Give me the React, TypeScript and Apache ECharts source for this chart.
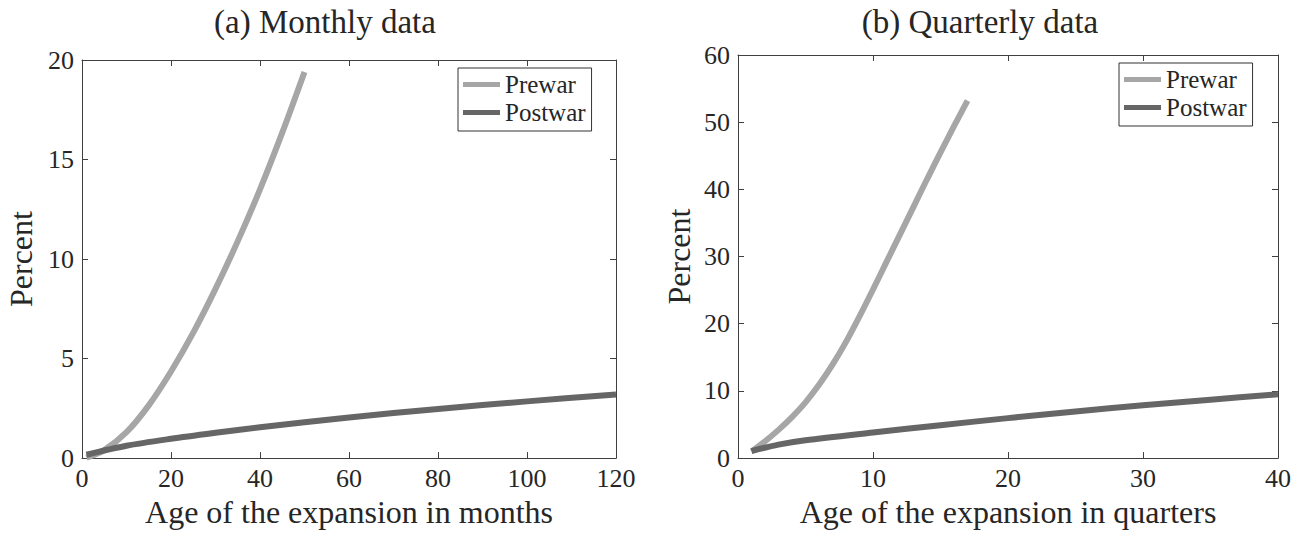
import React, { useEffect, useRef } from "react";
import * as echarts from "echarts";

// Panel (a): monthly data
const monthsPrewar = [1, 5, 10, 15, 20, 25, 30, 35, 40, 45, 50];
const prewarMonthly = [0.02, 0.4, 1.3, 2.65, 4.35, 6.3, 8.5, 10.9, 13.5, 16.35, 19.4];
const monthsPostwar = [1, 10, 20, 30, 40, 60, 80, 100, 120];
const postwarMonthly = [0.17, 0.62, 0.97, 1.27, 1.55, 2.04, 2.47, 2.85, 3.2];

// Panel (b): quarterly data
const quartersPrewar = [1, 2, 3, 4, 5, 6, 7, 8, 9, 10, 11, 12, 13, 14, 15, 16, 17];
const prewarQuarterly = [1.0, 2.5, 4.2, 6.1, 8.3, 10.9, 13.9, 17.3, 21.1, 25.1, 29.2, 33.3, 37.4, 41.5, 45.5, 49.4, 53.2];
const quartersPostwar = [1, 3, 5, 10, 15, 20, 25, 30, 35, 40];
const postwarQuarterly = [1.05, 2.0, 2.65, 3.8, 4.9, 5.95, 6.95, 7.85, 8.7, 9.5];

const titles = ["(a) Monthly data", "(b) Quarterly data"];
const xNames = ["Age of the expansion in months", "Age of the expansion in quarters"];
const yName = "Percent";
const seriesNames = ["Prewar", "Postwar"];

const FONT = "'Liberation Serif', 'DejaVu Serif', serif";
const AX = "#404040";
const TXT = "#262626";
const PREWAR_COLOR = "#a6a6a6";
const POSTWAR_COLOR = "#666666";

const zip = (xs: number[], ys: number[]) => xs.map((x, i) => [x, ys[i]]);

export default function App() {
  const ref = useRef<HTMLDivElement>(null);
  useEffect(() => {
    if (!ref.current) return;
    const chart = echarts.init(ref.current, undefined, { renderer: "svg" });

    const grids = [
      { left: 82, top: 60, width: 534, height: 402 },
      { left: 738, top: 55, width: 540, height: 406 },
    ];
    const xRanges = [
      { min: 0, max: 120, interval: 20 },
      { min: 0, max: 40, interval: 10 },
    ];
    const yRanges = [
      { min: 0, max: 20, interval: 5 },
      { min: 0, max: 60, interval: 10 },
    ];

    const baseAxis = (show: boolean) => ({
      axisLine: { show: true, onZero: false, lineStyle: { color: AX, width: 1 } },
      axisTick: { show: true, inside: true, length: 6, lineStyle: { color: AX } },
      splitLine: { show: false },
      axisLabel: { show, color: TXT, fontFamily: FONT, fontSize: 26 },
    });

    const xAxis: any[] = [];
    const yAxis: any[] = [];
    [0, 1].forEach((g) => {
      xAxis.push({
        type: "value",
        gridIndex: g,
        position: "bottom",
        ...xRanges[g],
        ...baseAxis(true),
        axisLabel: { color: TXT, fontFamily: FONT, fontSize: 26, margin: 7 },
        name: xNames[g],
        nameLocation: "middle",
        nameGap: 31,
        nameTextStyle: { color: TXT, fontFamily: FONT, fontSize: 32 },
      });
      xAxis.push({
        type: "value",
        gridIndex: g,
        position: "top",
        ...xRanges[g],
        ...baseAxis(false),
      });
      yAxis.push({
        type: "value",
        gridIndex: g,
        position: "left",
        ...yRanges[g],
        ...baseAxis(true),
        axisLabel: { color: TXT, fontFamily: FONT, fontSize: 26, margin: 8 },
        name: yName,
        nameLocation: "middle",
        nameGap: g === 0 ? 45 : 43,
        nameTextStyle: { color: TXT, fontFamily: FONT, fontSize: 32 },
      });
      yAxis.push({
        type: "value",
        gridIndex: g,
        position: "right",
        ...yRanges[g],
        ...baseAxis(false),
      });
    });

    const mkSeries = (name: string, data: number[][], g: number, color: string) => ({
      type: "line",
      name,
      data,
      xAxisIndex: g * 2,
      yAxisIndex: g * 2,
      showSymbol: false,
      symbol: "none",
      smooth: 0.3,
      lineStyle: { color, width: 6, cap: "butt" },
      itemStyle: { color },
      z: name === "Postwar" ? 3 : 2,
    });

    const legendBase = {
      orient: "vertical",
      icon: "rect",
      itemWidth: 37,
      itemHeight: 5,
      itemGap: 3,
      backgroundColor: "#ffffff",
      borderColor: "#333333",
      borderWidth: 1,
      borderRadius: 0,
      padding: [4, 6, 6, 5],
      textStyle: { color: TXT, fontFamily: FONT, fontSize: 25, lineHeight: 25 },
      data: seriesNames,
      selectedMode: false,
    };

    const titleStyle = (text: string) => ({
      text,
      fontFamily: FONT,
      fontSize: 33,
      fill: TXT,
      textAlign: "center",
      textVerticalAlign: "middle",
    });

    chart.setOption({
      animation: false,
      backgroundColor: "#ffffff",
      grid: grids.map((g) => ({ ...g, containLabel: false })),
      xAxis,
      yAxis,
      legend: [
        { ...legendBase, left: 458, top: 68 },
        { ...legendBase, left: 1119, top: 63 },
      ],
      graphic: [
        { type: "text", x: 325, y: 22, style: titleStyle(titles[0]) },
        { type: "text", x: 980, y: 22, style: titleStyle(titles[1]) },
      ],
      series: [
        mkSeries("Prewar", zip(monthsPrewar, prewarMonthly), 0, PREWAR_COLOR),
        mkSeries("Postwar", zip(monthsPostwar, postwarMonthly), 0, POSTWAR_COLOR),
        mkSeries("Prewar", zip(quartersPrewar, prewarQuarterly), 1, PREWAR_COLOR),
        mkSeries("Postwar", zip(quartersPostwar, postwarQuarterly), 1, POSTWAR_COLOR),
      ],
    });
    return () => chart.dispose();
  }, []);

  return (
    <div
      ref={ref}
      style={{ position: "absolute", left: 0, top: 0, width: 1294, height: 533 }}
    />
  );
}
